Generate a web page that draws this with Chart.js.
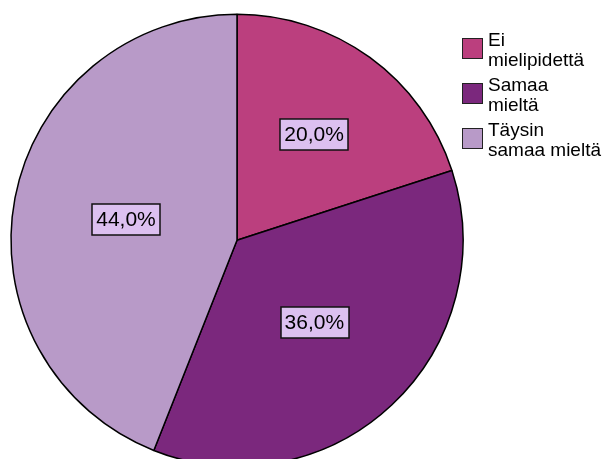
<!DOCTYPE html>
<html>
<head>
<meta charset="utf-8">
<script src="https://cdn.jsdelivr.net/npm/chart.js@4/dist/chart.umd.min.js"></script>
<style>
  html, body { margin:0; padding:0; background:#fff; overflow:hidden; }
  #wrap { position:relative; width:606px; height:459px; }
  #pieChart { position:absolute; left:0; top:0; }
  .legend-item { position:absolute; left:462px; font-family:"Liberation Sans", Arial, sans-serif; font-size:19px; line-height:20px; color:#000; }
  .legend-box { position:absolute; left:0; width:19px; height:19px; border:1px solid #222; }
  .legend-text { position:absolute; left:26px; white-space:nowrap; }
</style>
</head>
<body>
<div id="wrap">
  <canvas id="pieChart" width="606" height="459"></canvas>
  <div id="legend"></div>
</div>
<script>
const categories = [['Ei', 'mielipidettä'], ['Samaa', 'mieltä'], ['Täysin', 'samaa mieltä']];
const shares = [20.0, 36.0, 44.0];
const sliceColors = ['#bb3f7e', '#7b287d', '#b89ac8'];
// how far from the centre each percentage box sits (fraction of radius)
const labelDistance = [0.58, 0.5, 0.5];

const pctLabels = {
  id: 'pctLabels',
  afterDatasetsDraw(chart) {
    const ctx = chart.ctx;
    const arcs = chart.getDatasetMeta(0).data;
    ctx.save();
    ctx.font = '21px "Liberation Sans", Arial, sans-serif';
    ctx.textAlign = 'center';
    ctx.textBaseline = 'middle';
    arcs.forEach((arc, i) => {
      const p = arc.getProps(['x', 'y', 'startAngle', 'endAngle', 'outerRadius'], true);
      const mid = (p.startAngle + p.endAngle) / 2;
      const r = p.outerRadius * labelDistance[i];
      const cx = p.x + Math.cos(mid) * r;
      const cy = p.y + Math.sin(mid) * r;
      const txt = shares[i].toFixed(1).replace('.', ',') + '%';
      const w = ctx.measureText(txt).width + 8;
      const h = 31;
      ctx.fillStyle = '#dcc0f0';
      ctx.fillRect(Math.round(cx - w / 2), Math.round(cy - h / 2), Math.round(w), h);
      ctx.strokeStyle = '#111';
      ctx.lineWidth = 1.5;
      ctx.strokeRect(Math.round(cx - w / 2), Math.round(cy - h / 2), Math.round(w), h);
      ctx.fillStyle = '#000';
      ctx.fillText(txt, cx, cy + 1);
    });
    ctx.restore();
  }
};

new Chart(document.getElementById('pieChart'), {
  type: 'pie',
  data: {
    labels: categories.map(c => c.join(' ')),
    datasets: [{
      data: shares,
      backgroundColor: sliceColors,
      borderColor: '#000',
      borderWidth: 1.5,
      radius: 226,
      clip: false
    }]
  },
  options: {
    responsive: false,
    animation: false,
    events: [],
    layout: { padding: { left: 11, right: 143, top: 21.6, bottom: 0 } },
    plugins: { legend: { display: false }, tooltip: { enabled: false } }
  },
  plugins: [pctLabels]
});

const legend = document.getElementById('legend');
categories.forEach((lines, i) => {
  const top = 38.3 + i * 44.7;
  const item = document.createElement('div');
  item.className = 'legend-item';
  item.style.top = top + 'px';
  item.innerHTML = '<div class="legend-box" style="background:' + sliceColors[i] + '"></div>' +
    '<div class="legend-text" style="top:-8px">' + lines.join('<br>') + '</div>';
  legend.appendChild(item);
});
</script>
</body>
</html>
